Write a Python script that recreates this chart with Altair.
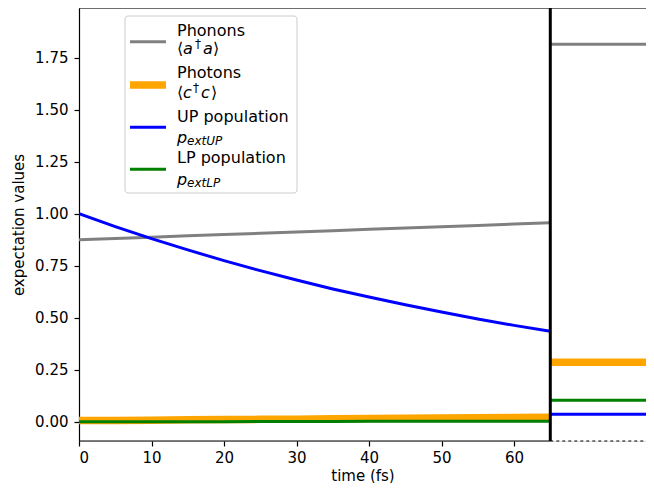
import altair as alt
import pandas as pd

# ---- data ----
time_fs = [0, 5, 10, 15, 20, 25, 30, 35, 40, 45, 50, 55, 60, 65]
phonons = [0.875, 0.881, 0.887, 0.894, 0.900, 0.906, 0.912, 0.918, 0.925, 0.931, 0.937, 0.943, 0.950, 0.956]
photons = [0.005, 0.006, 0.007, 0.009, 0.010, 0.011, 0.012, 0.014, 0.015, 0.016, 0.017, 0.019, 0.020, 0.021]
up_pop = [1.000, 0.938, 0.880, 0.826, 0.774, 0.726, 0.681, 0.638, 0.599, 0.562, 0.527, 0.494, 0.463, 0.435]
lp_pop = [-0.001, -0.001, 0.000, 0.000, 0.000, 0.001, 0.001, 0.001, 0.002, 0.002, 0.002, 0.002, 0.002, 0.002]

series_names = ["Phonons", "Photons", "UP population", "LP population"]
final_values = [1.815, 0.286, 0.036, 0.103]
x_ticks = [0, 10, 20, 30, 40, 50, 60]
y_ticks = [0.0, 0.25, 0.5, 0.75, 1.0, 1.25, 1.5, 1.75]
t_split = 65
t_end = 78.2
y_min, y_max = -0.093, 1.989

# ---- styles ----
colors = ["#808080", "#ffa500", "#0000ff", "#008000"]
widths = [3, 7.5, 3, 3]
FONT = "DejaVu Sans"
FS = 15
LFS = 16

xscale = alt.Scale(domain=[0, t_end], nice=False, zero=False)
yscale = alt.Scale(domain=[y_min, y_max], nice=False, zero=False)

x_axis = alt.Axis(values=x_ticks, format="d", domain=False, grid=False,
                  tickColor="black", tickSize=5, tickWidth=1.2,
                  labelFont=FONT, labelFontSize=FS, labelColor="black", labelPadding=4,
                  titleFont=FONT, titleFontSize=FS, titleFontWeight="normal",
                  titleColor="black", titlePadding=3)
y_axis = alt.Axis(values=y_ticks, format=".2f", domain=True, domainColor="black",
                  domainWidth=1.2, grid=False,
                  tickColor="black", tickSize=5, tickWidth=1.2,
                  labelFont=FONT, labelFontSize=FS, labelColor="black", labelPadding=6,
                  titleFont=FONT, titleFontSize=FS, titleFontWeight="normal",
                  titleColor="black", titlePadding=8)

def X(field):
    return alt.X(field, type="quantitative", scale=xscale, axis=x_axis, title="time (fs)")

def Y(field):
    return alt.Y(field, type="quantitative", scale=yscale, axis=y_axis, title="expectation values")

series_values = [phonons, photons, up_pop, lp_pop]
layers = []

# time-dependent curves
for name, vals, c, w in zip(series_names, series_values, colors, widths):
    df = pd.DataFrame({"t": time_fs, "v": vals})
    layers.append(alt.Chart(df).mark_line(color=c, strokeWidth=w, clip=True)
                  .encode(x=X("t"), y=Y("v")))

# final (steady) values to the right of the split
for name, v, c, w in zip(series_names, final_values, colors, widths):
    df = pd.DataFrame({"t0": [t_split], "t1": [t_end], "v": [v]})
    layers.append(alt.Chart(df).mark_rule(color=c, strokeWidth=w, clip=True)
                  .encode(x=X("t0"), x2="t1", y=Y("v")))

# spines and separators
spine_df = pd.DataFrame({"t0": [0, 0], "t1": [t_split, t_end], "v": [y_min, y_max]})
layers.append(alt.Chart(spine_df).mark_rule(color="black", strokeWidth=1.2)
              .encode(x=X("t0"), x2="t1", y=Y("v")))
dash_df = pd.DataFrame({"t0": [t_split], "t1": [t_end], "v": [y_min]})
layers.append(alt.Chart(dash_df).mark_rule(color="black", strokeWidth=1.2, strokeDash=[3, 3])
              .encode(x=X("t0"), x2="t1", y=Y("v")))
vline_df = pd.DataFrame({"t": [t_split], "v0": [y_min], "v1": [y_max]})
layers.append(alt.Chart(vline_df).mark_rule(color="black", strokeWidth=3)
              .encode(x=X("t"), y=Y("v0"), y2="v1"))

# ---- custom legend ----
one = pd.DataFrame({"a": [0]})
layers.append(alt.Chart(one).mark_rect(fill="white", fillOpacity=0.85, stroke="#cccccc",
                                       strokeWidth=1, cornerRadius=3)
              .encode(x=alt.value(46), x2=alt.value(218), y=alt.value(8), y2=alt.value(185)))

swatch_y = [33.7, 77, 119.3, 161.3]
line1_y = [22.7, 64.7, 109.3, 150.3]
line2_y = [41.3, 85.3, 130.3, 172]
TX = 98

def txt(s, x, y, size=LFS, style="normal"):
    return (alt.Chart(pd.DataFrame({"s": [s]}))
            .mark_text(align="left", baseline="middle", font=FONT, fontSize=size,
                       fontStyle=style, color="black")
            .encode(text="s:N", x=alt.value(x), y=alt.value(y)))

for i, (name, c, w) in enumerate(zip(series_names, colors, widths)):
    layers.append(alt.Chart(one).mark_rule(color=c, strokeWidth=w)
                  .encode(x=alt.value(51), x2=alt.value(87), y=alt.value(swatch_y[i])))
    layers.append(txt(name, TX, line1_y[i]))

# second lines (math-like)
layers.append(txt("⟨", TX, line2_y[0]))
layers.append(txt("a", TX + 6, line2_y[0], style="italic"))
layers.append(txt("†", TX + 18, line2_y[0] - 5, size=12))
layers.append(txt("a", TX + 26, line2_y[0], style="italic"))
layers.append(txt("⟩", TX + 36, line2_y[0]))

layers.append(txt("⟨", TX, line2_y[1]))
layers.append(txt("c", TX + 6, line2_y[1], style="italic"))
layers.append(txt("†", TX + 16, line2_y[1] - 5, size=12))
layers.append(txt("c", TX + 24, line2_y[1], style="italic"))
layers.append(txt("⟩", TX + 34, line2_y[1]))

layers.append(txt("p", TX, line2_y[2], style="italic"))
layers.append(txt("extUP", TX + 10, line2_y[2] + 3, size=12, style="italic"))
layers.append(txt("p", TX, line2_y[3], style="italic"))
layers.append(txt("extLP", TX + 10, line2_y[3] + 3, size=12, style="italic"))

chart = (alt.layer(*layers)
         .properties(width=567, height=433,
                     autosize=alt.AutoSizeParams(type="none"),
                     padding={"left": 71, "top": 0, "right": 0, "bottom": 42})
         .configure_view(stroke=None)
         .configure(background="white"))

chart.save("out.html", embed_options={"renderer": "svg", "actions": False})
